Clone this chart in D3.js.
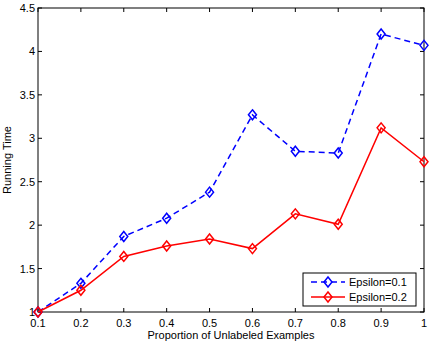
<!DOCTYPE html>
<html>
<head>
<meta charset="utf-8">
<script src="https://cdn.jsdelivr.net/npm/d3@7"></script>
<style>
  body { margin: 0; background: #fff; }
  svg { font-family: "Liberation Sans", Arial, sans-serif; }
</style>
</head>
<body>
<svg id="chart" width="432" height="344"></svg>
<script>
// ---- data ----
const proportions = [0.1, 0.2, 0.3, 0.4, 0.5, 0.6, 0.7, 0.8, 0.9, 1.0];
const eps01 = [1.0, 1.33, 1.87, 2.08, 2.38, 3.27, 2.85, 2.83, 4.2, 4.07];
const eps02 = [1.0, 1.25, 1.64, 1.76, 1.84, 1.73, 2.13, 2.01, 3.12, 2.73];
const xTicks = [0.1, 0.2, 0.3, 0.4, 0.5, 0.6, 0.7, 0.8, 0.9, 1];
const yTicks = [1, 1.5, 2, 2.5, 3, 3.5, 4, 4.5];

const series = [
  { name: 'Epsilon=0.1', values: eps01, color: '#0000ff', dash: '6,4' },
  { name: 'Epsilon=0.2', values: eps02, color: '#ff0000', dash: null }
];

// ---- layout ----
const svg = d3.select('#chart');
const plotL = 38, plotR = 424, plotT = 8, plotB = 312;

const x = d3.scaleLinear().domain([0.1, 1]).range([plotL, plotR]);
const y = d3.scaleLinear().domain([1, 4.5]).range([plotB, plotT]);

// ---- axes box ----
svg.append('rect')
  .attr('x', plotL).attr('y', plotT)
  .attr('width', plotR - plotL).attr('height', plotB - plotT)
  .attr('fill', 'none').attr('stroke', '#000').attr('stroke-width', 1);

const tickLen = 4;
const fmt = d => String(d);

// bottom + top ticks
const gx = svg.append('g');
xTicks.forEach(t => {
  const px = x(t);
  gx.append('line').attr('x1', px).attr('x2', px).attr('y1', plotB).attr('y2', plotB - tickLen).attr('stroke', '#000');
  gx.append('line').attr('x1', px).attr('x2', px).attr('y1', plotT).attr('y2', plotT + tickLen).attr('stroke', '#000');
  gx.append('text').attr('x', px).attr('y', plotB + 15)
    .attr('text-anchor', 'middle').attr('font-size', 11).text(fmt(t));
});

// left + right ticks
const gy = svg.append('g');
yTicks.forEach(t => {
  const py = y(t);
  gy.append('line').attr('x1', plotL).attr('x2', plotL + tickLen).attr('y1', py).attr('y2', py).attr('stroke', '#000');
  gy.append('line').attr('x1', plotR).attr('x2', plotR - tickLen).attr('y1', py).attr('y2', py).attr('stroke', '#000');
  gy.append('text').attr('x', plotL - 3).attr('y', py + 4)
    .attr('text-anchor', 'end').attr('font-size', 11).text(fmt(t));
});

// axis labels
svg.append('text').attr('x', (plotL + plotR) / 2).attr('y', 339)
  .attr('text-anchor', 'middle').attr('font-size', 11)
  .text('Proportion of Unlabeled Examples');
svg.append('text')
  .attr('transform', `translate(11,${(plotT + plotB) / 2}) rotate(-90)`)
  .attr('text-anchor', 'middle').attr('font-size', 11)
  .text('Running Time');

// ---- lines + markers ----
const line = d3.line().x((d, i) => x(proportions[i])).y(d => y(d));
const diamond = (cx, cy) => `M${cx},${cy - 5}L${cx + 4},${cy}L${cx},${cy + 5}L${cx - 4},${cy}Z`;

series.forEach(s => {
  svg.append('path')
    .attr('d', line(s.values))
    .attr('fill', 'none').attr('stroke', s.color).attr('stroke-width', 1.5)
    .attr('stroke-dasharray', s.dash);
  svg.selectAll(null).data(s.values).enter().append('path')
    .attr('d', (d, i) => diamond(x(proportions[i]), y(d)))
    .attr('fill', 'none').attr('stroke', s.color).attr('stroke-width', 1.5);
});

// ---- legend ----
const lg = svg.append('g');
lg.append('rect').attr('x', 303).attr('y', 273).attr('width', 113).attr('height', 33)
  .attr('fill', '#fff').attr('stroke', '#000').attr('stroke-width', 1);
series.forEach((s, i) => {
  const ly = 282 + i * 15;
  lg.append('line').attr('x1', 311).attr('x2', 345).attr('y1', ly).attr('y2', ly)
    .attr('stroke', s.color).attr('stroke-width', 1.5).attr('stroke-dasharray', s.dash);
  lg.append('path').attr('d', diamond(328, ly))
    .attr('fill', 'none').attr('stroke', s.color).attr('stroke-width', 1.5);
  lg.append('text').attr('x', 349).attr('y', ly + 4).attr('font-size', 11).text(s.name);
});
</script>
</body>
</html>
